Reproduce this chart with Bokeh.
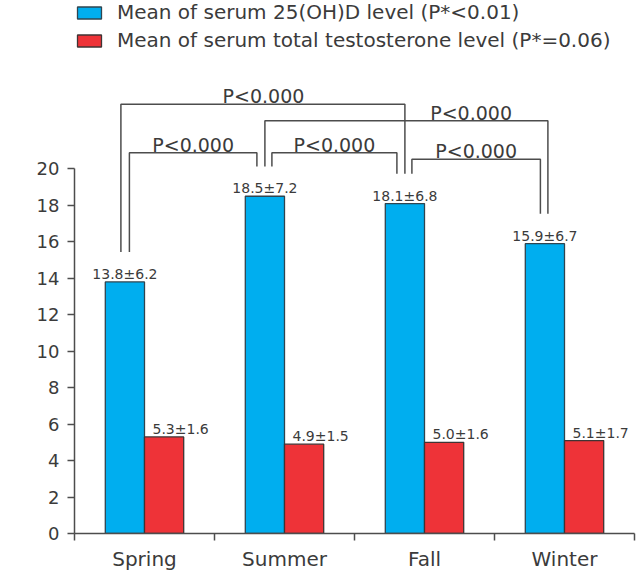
from bokeh.plotting import figure
from bokeh.models import ColumnDataSource, Range1d, FixedTicker, Legend, LegendItem
from bokeh.embed import file_html
from bokeh.resources import INLINE
from bokeh.core.properties import value

# ---------------- data ----------------
seasons = ["Spring", "Summer", "Fall", "Winter"]
vitd_mean = [13.8, 18.5, 18.1, 15.9]
vitd_sd = [6.2, 7.2, 6.8, 6.7]
testo_mean = [5.3, 4.9, 5.0, 5.1]
testo_sd = [1.6, 1.5, 1.6, 1.7]
legend_labels = ["Mean of serum 25(OH)D level (P*<0.01)",
                 "Mean of serum total testosterone level (P*=0.06)"]
y_ticks = [0, 2, 4, 6, 8, 10, 12, 14, 16, 18, 20]

# pairwise comparisons of 25(OH)D between seasons
pair_from = [0, 1, 0, 1, 2]
pair_to = [2, 3, 1, 2, 3]
pair_label = ["P<0.000", "P<0.000", "P<0.000", "P<0.000", "P<0.000"]

# ---------------- layout / style ----------------
FONT = "DejaVu Sans"
TXT = "#3b3b3b"
LINE = "#4d4d4d"
BLUE = "#00AEEF"
RED = "#EE3338"
BAR_W = 0.28
PX_X = 140.0                 # px per category unit
PX_Y = 18.333                # px per y unit
bracket_level = [23.55, 22.64, 20.89, 20.89, 20.53]
label_x = [1.35, 2.833, None, None, None]       # None -> centred on bracket
leg_off_left = [-4, 0, 4.5, 7, 7]               # px, relative to blue bar centre
leg_off_right = [0, 3, -8, -8, -4.5]
LEG_GAP = 30                                    # px between bar top and bracket leg

W, H = 636, 573
BOTTOM = 37
p = figure(width=W, height=H, output_backend="svg", toolbar_location=None,
           x_range=Range1d(0, 4), y_range=Range1d(0, (H - BOTTOM) / PX_Y),
           min_border_left=74, min_border_right=2, min_border_top=0,
           min_border_bottom=BOTTOM, outline_line_color=None)
p.grid.visible = False

centers = [i + 0.5 for i in range(len(seasons))]
blue_x = [c - BAR_W / 2 for c in centers]
red_x = [c + BAR_W / 2 for c in centers]

src = ColumnDataSource(dict(
    bx=blue_x, rx=red_x, vd=vitd_mean, tt=testo_mean,
    vdl=[f"{m:.1f}±{s:.1f}" for m, s in zip(vitd_mean, vitd_sd)],
    ttl=[f"{m:.1f}±{s:.1f}" for m, s in zip(testo_mean, testo_sd)],
    rleft=[x - BAR_W / 2 for x in red_x],
))

r_blue = p.vbar(x="bx", top="vd", width=BAR_W, bottom=0, source=src,
                fill_color=BLUE, line_color="#2f4550", line_width=1.3)
r_red = p.vbar(x="rx", top="tt", width=BAR_W, bottom=0, source=src,
               fill_color=RED, line_color="#3f3434", line_width=1.3)

p.text(x="bx", y="vd", text="vdl", source=src, text_align="center",
       text_baseline="alphabetic", y_offset=-8, text_font=value(FONT),
       text_font_size="14px", text_color=TXT)
p.text(x="rleft", y="tt", text="ttl", source=src, text_align="left",
       text_baseline="alphabetic", x_offset=8, y_offset=-8, text_font=value(FONT),
       text_font_size="14px", text_color=TXT)

# brackets
xs, ys, lx, ly = [], [], [], []
for k in range(len(pair_from)):
    i, j = pair_from[k], pair_to[k]
    xl = blue_x[i] + leg_off_left[k] / PX_X
    xr = blue_x[j] + leg_off_right[k] / PX_X
    yl = vitd_mean[i] + LEG_GAP / PX_Y
    yr = vitd_mean[j] + LEG_GAP / PX_Y
    lev = bracket_level[k]
    xs.append([xl, xl, xr, xr])
    ys.append([yl, lev, lev, yr])
    lx.append(label_x[k] if label_x[k] is not None else (xl + xr) / 2)
    ly.append(lev)
p.multi_line(xs=xs, ys=ys, line_color=LINE, line_width=1.5)
p.text(x=lx, y=ly, text=pair_label, text_align="center", text_baseline="alphabetic",
       y_offset=-8, text_font=value(FONT), text_font_size="19px", text_color=TXT)

# axes
xa = p.xaxis[0]
xa.ticker = FixedTicker(ticks=centers, minor_ticks=list(range(len(seasons) + 1)))
xa.major_label_overrides = {c: s for c, s in zip(centers, seasons)}
xa.bounds = (0, 4)
xa.major_tick_line_color = None
xa.major_tick_in = 0
xa.major_tick_out = 0
xa.minor_tick_line_color = LINE
xa.minor_tick_line_width = 1.5
xa.minor_tick_in = 0
xa.minor_tick_out = 7
xa.axis_line_color = LINE
xa.axis_line_width = 1.5
xa.major_label_standoff = 6
xa.major_label_text_font = FONT
xa.major_label_text_font_size = "20px"
xa.major_label_text_color = TXT

ya = p.yaxis[0]
ya.ticker = FixedTicker(ticks=y_ticks)
ya.bounds = (0, 20)
ya.minor_tick_line_color = None
ya.major_tick_in = 0
ya.major_tick_out = 7
ya.major_tick_line_color = LINE
ya.major_tick_line_width = 1.5
ya.axis_line_color = LINE
ya.axis_line_width = 1.5
ya.major_label_standoff = 8
ya.major_label_text_font = FONT
ya.major_label_text_font_size = "18px"
ya.major_label_text_color = TXT

legend = Legend(items=[LegendItem(label=legend_labels[0], renderers=[r_blue]),
                       LegendItem(label=legend_labels[1], renderers=[r_red])],
                location="top_left", glyph_width=30, glyph_height=15, label_standoff=13,
                spacing=4, padding=0, margin=0, border_line_color=None,
                background_fill_alpha=0, label_text_font=FONT,
                label_text_font_size="20px", label_text_color=TXT)
p.add_layout(legend)

open("out.html", "w").write(file_html(p, INLINE))
